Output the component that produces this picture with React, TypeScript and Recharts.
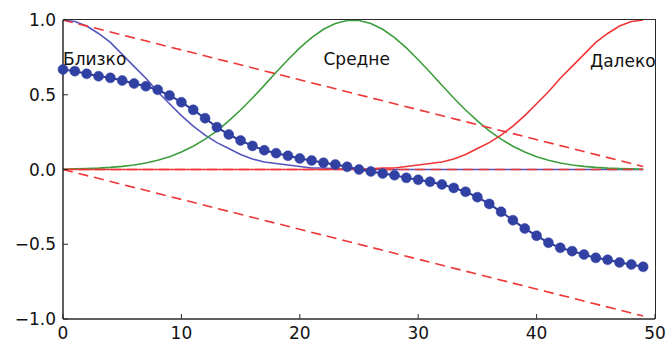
import React from "react";
import { LineChart, Line, XAxis, YAxis, ReferenceDot } from "recharts";

// x positions 0..49
const xs = [
  0, 1, 2, 3, 4, 5, 6, 7, 8, 9, 10, 11, 12, 13, 14, 15, 16, 17, 18, 19, 20, 21, 22, 23, 24,
  25, 26, 27, 28, 29, 30, 31, 32, 33, 34, 35, 36, 37, 38, 39, 40, 41, 42, 43, 44, 45, 46, 47, 48, 49,
];

// "Близко" membership
const near = [
  1, 0.99, 0.96, 0.91, 0.85, 0.77, 0.69, 0.61, 0.52, 0.44, 0.36, 0.29, 0.23, 0.18, 0.14, 0.1, 0.07,
  0.05, 0.04, 0.03, 0.02, 0.01, 0.01, 0.005, 0.003, 0.002, 0.001, 0, 0, 0, 0, 0, 0, 0, 0, 0, 0, 0, 0,
  0, 0, 0, 0, 0, 0, 0, 0, 0, 0, 0,
];

// "Средне" membership
const mid = [
  0.002, 0.004, 0.006, 0.009, 0.014, 0.021, 0.03, 0.044, 0.062, 0.086, 0.117, 0.156, 0.203, 0.259,
  0.325, 0.398, 0.478, 0.563, 0.65, 0.734, 0.813, 0.882, 0.938, 0.977, 0.997, 0.997, 0.977, 0.938,
  0.882, 0.813, 0.734, 0.65, 0.563, 0.478, 0.398, 0.325, 0.259, 0.203, 0.156, 0.117, 0.086, 0.062,
  0.044, 0.03, 0.021, 0.014, 0.009, 0.006, 0.004, 0.002,
];

// "Далеко" membership
const far = [
  0, 0, 0, 0, 0, 0, 0, 0, 0, 0, 0, 0, 0, 0, 0, 0, 0, 0, 0, 0, 0, 0, 0, 0.001, 0.002, 0.003,
  0.005, 0.01, 0.01, 0.02, 0.03, 0.04, 0.05, 0.07, 0.1, 0.14, 0.18, 0.23, 0.29, 0.36, 0.44, 0.52,
  0.61, 0.69, 0.77, 0.85, 0.91, 0.96, 0.99, 1,
];

// output (dotted series)
const output = [
  0.669, 0.658, 0.64, 0.624, 0.613, 0.595, 0.575, 0.557, 0.533, 0.495, 0.45, 0.399, 0.343, 0.283,
  0.234, 0.194, 0.158, 0.129, 0.109, 0.092, 0.074, 0.06, 0.045, 0.033, 0.018, 0, -0.013, -0.027,
  -0.038, -0.056, -0.069, -0.082, -0.1, -0.123, -0.149, -0.185, -0.23, -0.283, -0.339, -0.395,
  -0.443, -0.49, -0.524, -0.546, -0.569, -0.591, -0.604, -0.622, -0.635, -0.651,
];

// dashed guides: [x, y] endpoints
const guideTop = [
  [0, 1],
  [49, 0.02],
];
const guideZero = [
  [0, 0],
  [49, 0],
];
const guideBottom = [
  [0, 0],
  [49, -0.98],
];

const xTicks = [0, 10, 20, 30, 40, 50];
const yTicks = [-1, -0.5, 0, 0.5, 1];

const labels = [
  { text: "Близко", x: 0, y: 0.7 },
  { text: "Средне", x: 22, y: 0.7 },
  { text: "Далеко", x: 44.5, y: 0.685 },
];

const data = xs.map((x, i) => ({ x, near: near[i], mid: mid[i], far: far[i], out: output[i] }));
const toPts = (pts: number[][]) => pts.map(([x, y]) => ({ x, y }));

const FONT = "DejaVu Sans, sans-serif";
const SPINE = "#2a2a2a";
const RED = "#ef3535";
const TICK = 5;
const fmtY = (v: number) => v.toFixed(1).replace("-", "\u2212");

// plot box (matches chart margins + axis sizes below)
const PLOT = { left: 63, top: 20, right: 655, bottom: 319 };

function TextLabel({ viewBox, value }: any) {
  return (
    <text x={viewBox.x} y={viewBox.y} fontFamily={FONT} fontSize={17} fill="#111">
      {value}
    </text>
  );
}

export default function App() {
  return (
    <div style={{ position: "absolute", left: 0, top: 0, width: 666, height: 342, background: "#fff" }}>
      <LineChart width={666} height={342} data={data} margin={{ top: 20, right: 11, bottom: 0, left: 0 }}>
        <XAxis
          dataKey="x"
          type="number"
          domain={[0, 50]}
          ticks={xTicks}
          height={23}
          tickSize={-TICK}
          tickMargin={13}
          axisLine={{ stroke: SPINE, strokeWidth: 1.5 }}
          tickLine={{ stroke: SPINE }}
          tick={{ fontFamily: FONT, fontSize: 17, fill: "#111" }}
        />
        <YAxis
          type="number"
          domain={[-1, 1]}
          ticks={yTicks}
          width={63}
          tickSize={-TICK}
          tickMargin={12}
          tickFormatter={fmtY}
          axisLine={{ stroke: SPINE, strokeWidth: 1.5 }}
          tickLine={{ stroke: SPINE }}
          tick={{ fontFamily: FONT, fontSize: 17, fill: "#111" }}
        />

        <Line dataKey="near" stroke="#5555c0" strokeWidth={1.6} dot={false} isAnimationActive={false} />
        <Line dataKey="mid" stroke="#3d9e3d" strokeWidth={1.6} dot={false} isAnimationActive={false} />
        <Line dataKey="far" stroke={RED} strokeWidth={1.6} dot={false} isAnimationActive={false} />

        <Line data={toPts(guideTop)} dataKey="y" stroke={RED} strokeWidth={1.6} strokeDasharray="10 6" dot={false} isAnimationActive={false} />
        <Line data={toPts(guideZero)} dataKey="y" stroke={RED} strokeWidth={1.6} strokeDasharray="10 6" dot={false} isAnimationActive={false} />
        <Line data={toPts(guideBottom)} dataKey="y" stroke={RED} strokeWidth={1.6} strokeDasharray="10 6" dot={false} isAnimationActive={false} />

        <Line
          dataKey="out"
          stroke="#2c3a96"
          strokeWidth={2}
          dot={{ r: 5, fill: "#3141a3", stroke: "#3141a3", strokeWidth: 0.5 }}
          isAnimationActive={false}
        />

        {labels.map((l) => (
          <ReferenceDot
            key={l.text}
            x={l.x}
            y={l.y}
            r={0}
            fill="none"
            stroke="none"
            label={<TextLabel value={l.text} />}
          />
        ))}
      </LineChart>
      {/* top and right spines of the frame */}
      <div
        style={{
          position: "absolute",
          boxSizing: "border-box",
          left: PLOT.left,
          top: PLOT.top - 1,
          width: PLOT.right - PLOT.left + 1,
          height: PLOT.bottom - PLOT.top + 1,
          borderTop: `1.5px solid ${SPINE}`,
          borderRight: `1.5px solid ${SPINE}`,
          pointerEvents: "none",
        }}
      />
    </div>
  );
}
